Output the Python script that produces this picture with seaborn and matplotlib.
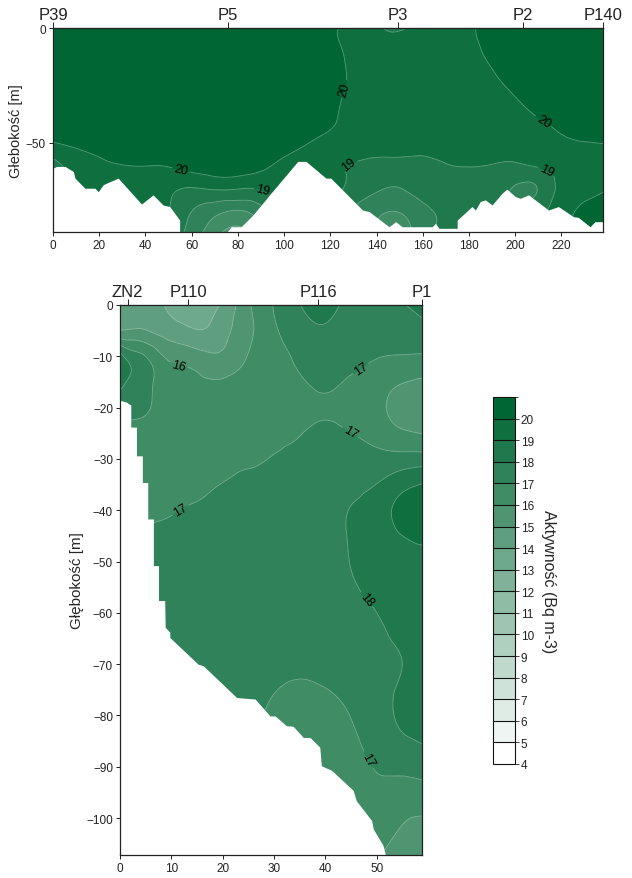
import numpy as np
import matplotlib
matplotlib.use('Agg')
import matplotlib.pyplot as plt
import matplotlib.tri as mtri
from matplotlib.colors import ListedColormap, BoundaryNorm
from matplotlib.cm import ScalarMappable
import seaborn as sns

# ---------------- upper section: P39 - P140 ----------------
top_x = list(range(0, 250, 10))
top_depth = [0, -10, -20, -30, -40, -50, -60, -70, -80, -90]
top_values = [
    [20.6]*11 + [20.35, 20.08, 19.8, 19.15, 18.9, 19.5, 19.6, 19.9, 20.2, 20.4, 20.6, 20.6, 20.6, 20.6],
    [20.6]*11 + [20.4, 20.15, 19.85, 19.5, 19.35, 19.5, 19.6, 19.8, 20.15, 20.4, 20.6, 20.6, 20.6, 20.6],
    [20.6]*11 + [20.45, 20.2, 19.9, 19.6, 19.5, 19.5, 19.55, 19.7, 19.95, 20.3, 20.5, 20.6, 20.6, 20.6],
    [20.6]*11 + [20.4, 20.15, 19.85, 19.6, 19.5, 19.5, 19.5, 19.6, 19.75, 20.0, 20.3, 20.5, 20.6, 20.6],
    [20.6]*10 + [20.5, 20.3, 20.08, 19.8, 19.6, 19.5, 19.5, 19.5, 19.5, 19.6, 19.8, 19.97, 20.2, 20.4, 20.5],
    [19.98, 20.2, 20.3, 20.4, 20.5, 20.5, 20.55, 20.6, 20.6, 20.5, 20.3, 20.03, 19.75, 19.55, 19.4,
     19.35, 19.35, 19.4, 19.45, 19.5, 19.55, 19.65, 19.85, 19.98, 20.02],
    [18.7, 19.4, 19.8, 19.98, 20.02, 20.05, 20.35, 20.6, 20.6, 20.2, 19.85, 19.6, 19.2, 18.95, 18.8,
     18.75, 18.75, 18.95, 19.03, 18.97, 18.88, 19.1, 19.45, 19.7, 19.85],
    [19.0, 19.2, 19.35, 19.45, 19.4, 19.2, 18.95, 19.1, 19.05, 19.05, 19.4, 19.5, 19.3, 18.7, 18.15,
     17.98, 18.4, 18.6, 18.7, 18.5, 17.9, 18.05, 19.3, 19.75, 20.0],
    [19.3, 19.3, 19.35, 19.4, 19.3, 19.0, 18.0, 17.3, 16.9, 17.6, 18.6, 19.0, 18.6, 17.85, 17.2,
     17.05, 17.7, 18.3, 18.6, 18.4, 18.0, 18.7, 19.5, 20.3, 20.5],
    [19.2, 19.2, 19.2, 19.2, 19.1, 18.7, 17.5, 16.25, 15.5, 16.75, 18.0, 18.6, 18.3, 17.9, 16.9,
     16.5, 17.5, 18.4, 18.6, 18.6, 18.5, 18.8, 19.6, 20.5, 20.6],
]
# outline of the section bottom (x, depth)
top_floor = [
    (0, -61.1), (1.6, -60.4), (5.2, -60.4), (8.8, -62.6), (9.5, -65.5), (13.8, -69.9), (18.1, -69.9),
    (19.6, -71.4), (21.7, -68.4), (23.1, -67.7), (28.2, -65.5), (38.3, -76.8), (43.3, -72.8),
    (47.6, -77.2), (50.5, -77.9), (54.8, -83.8), (54.8, -89.5), (74.9, -89.5), (77.1, -86.7),
    (81.4, -86.7), (86.5, -81.6), (93.7, -72.8), (105.9, -58.2), (109.5, -58.2), (118.1, -65.5),
    (120.2, -65.5), (133.9, -79.4), (136.8, -80.1), (145.4, -86.7), (148.3, -84.5), (151.1, -86.7),
    (164.1, -86.7), (165.5, -85.2), (167.0, -87.4), (174.9, -87.4), (174.9, -83.8), (181.3, -77.9),
    (182.8, -79.4), (184.9, -75.7), (187.1, -75.0), (190.0, -77.2), (194.3, -72.1), (196.4, -70.3),
    (200.0, -73.5), (202.2, -74.3), (205.8, -72.8), (214.4, -79.4), (218.7, -77.9), (225.2, -82.3),
    (227.3, -82.6), (232.4, -86.7), (234.5, -84.5), (240.0, -84.5),
]
top_wells = ['P39', 'P5', 'P3', 'P2', 'P140']
top_well_x = [0, 75.8, 149.2, 203.3, 238]
top_labels = {20: [(127, -27), (212, -41), (56, -58.7)],
              19: [(91, -70), (128.5, -60.5), (212.5, -64.5)]}

# ---------------- lower section: ZN2 - P1 ----------------
bot_x = list(range(0, 65, 5))
bot_depth = [0, -5, -10, -15, -20, -25, -30, -35, -40, -45, -50, -60, -70, -80, -90, -100, -110]
bot_values = [
    [14.7, 14.5, 13.8, 13.55, 14.15, 15.85, 17.05, 17.97, 18.3, 17.7, 17.6, 17.95, 18.3],
    [15.05, 15.05, 14.45, 14.05, 14.65, 15.75, 16.85, 17.6, 17.9, 17.6, 17.45, 17.5, 17.85],
    [18.4, 17.0, 15.75, 15.4, 15.2, 16.05, 16.6, 17.25, 17.6, 17.35, 17.05, 16.95, 16.9],
    [18.35, 17.3, 16.4, 16.2, 16.1, 16.25, 16.5, 16.85, 17.25, 16.85, 16.5, 16.05, 15.8],
    [17.3, 17.1, 16.55, 16.4, 16.4, 16.45, 16.5, 16.6, 16.85, 16.6, 16.25, 15.6, 15.35],
    [16.9, 16.7, 16.55, 16.5, 16.55, 16.65, 16.8, 16.95, 17.3, 17.01, 16.6, 16.15, 15.9],
    [16.6, 16.6, 16.6, 16.6, 16.7, 16.85, 17.05, 17.3, 17.55, 17.55, 17.35, 17.4, 17.45],
    [16.8, 16.8, 16.75, 16.8, 17.03, 17.25, 17.4, 17.55, 17.7, 17.8, 18.02, 18.7, 19.15],
    [16.9, 16.9, 16.95, 17.1, 17.25, 17.4, 17.5, 17.6, 17.75, 18.03, 18.5, 19.3, 19.45],
    [17.1, 17.1, 17.2, 17.3, 17.35, 17.45, 17.5, 17.6, 17.75, 18.05, 18.5, 19.0, 19.1],
    [17.3, 17.3, 17.4, 17.45, 17.5, 17.5, 17.55, 17.6, 17.75, 18.02, 18.4, 18.75, 18.85],
    [17.5, 17.5, 17.5, 17.5, 17.55, 17.55, 17.6, 17.65, 17.7, 17.8, 18.0, 18.45, 18.65],
    [17.5, 17.5, 17.5, 17.5, 17.45, 17.4, 17.3, 17.2, 17.3, 17.5, 17.75, 18.0, 18.4],
    [17.4, 17.4, 17.4, 17.3, 17.3, 17.2, 16.8, 16.6, 16.7, 17.03, 17.6, 18.15, 18.4],
    [17.0, 17.0, 17.0, 16.9, 16.8, 16.7, 16.6, 16.5, 16.6, 16.75, 17.06, 17.25, 17.5],
    [16.6, 16.6, 16.6, 16.6, 16.6, 16.6, 16.6, 16.6, 16.6, 16.6, 16.55, 16.1, 15.95],
    [16.3, 16.3, 16.3, 16.3, 16.3, 16.3, 16.3, 16.3, 16.2, 16.1, 15.8, 15.6, 15.5],
]
# outline of the left (no data) side (depth, x)
bot_wall = [
    (-18.6, 0), (-18.9, 1.2), (-19.5, 2.1), (-23.8, 2.1), (-23.8, 3.2), (-29.4, 3.2), (-29.4, 4.35),
    (-34.6, 4.35), (-34.6, 5.4), (-41.7, 5.4), (-41.7, 6.5), (-50.8, 6.5), (-50.8, 7.5), (-57.6, 7.5),
    (-57.6, 8.7), (-62.8, 8.8), (-63.8, 9.7), (-64.8, 9.7), (-70.0, 15.2), (-70.3, 16.2),
    (-76.5, 22.7), (-76.8, 26.3), (-80.1, 29.2), (-80.1, 30.2), (-82.0, 32.4), (-82.1, 33.7),
    (-84.3, 35.7), (-84.3, 37.0), (-86.2, 38.9), (-89.8, 39.2), (-90.7, 41.2), (-94.6, 45.4),
    (-96.6, 46.0), (-100.5, 49.0), (-102.1, 49.3), (-105.3, 51.2), (-106.9, 51.6), (-110, 52.5),
]
bot_wells = ['ZN2', 'P110', 'P116', 'P1']
bot_well_x = [1.5, 13.3, 38.6, 58.8]
bot_labels = {16: [(11.3, -12.2)],
              17: [(46.8, -12.3), (44.8, -25), (11.6, -39.7), (48.6, -88.5)],
              18: [(48.7, -56.7)]}

levels = list(range(4, 22))

sns.set_style('ticks')
plt.rcParams['font.family'] = ['Liberation Sans', 'DejaVu Sans']
plt.rcParams['axes.edgecolor'] = '#222222'
plt.rcParams['xtick.color'] = '#222222'
plt.rcParams['ytick.color'] = '#222222'

palette = sns.blend_palette(['#ffffff', '#006633'], n_colors=len(levels) - 1)
cmap = ListedColormap(palette)
norm = BoundaryNorm(levels, cmap.N)
line_col = [(1, 1, 1, 0.35)]


def draw_section(ax, xs, ds, values, labels):
    X, D = np.meshgrid(xs, ds)
    tri = mtri.Triangulation(X.ravel(), D.ravel())
    refiner = mtri.UniformTriRefiner(tri)
    tri_f, z_f = refiner.refine_field(np.asarray(values, float).ravel(), subdiv=3)
    z_f = np.clip(z_f, 4.01, 20.99)
    ax.tricontourf(tri_f, z_f, levels=levels, cmap=cmap, norm=norm, zorder=1)
    plain = [lv for lv in levels if lv not in labels]
    ax.tricontour(tri_f, z_f, levels=plain, colors=line_col, linewidths=0.6, zorder=1.5)
    for lv, spots in labels.items():
        cs = ax.tricontour(tri_f, z_f, levels=[lv], colors=line_col, linewidths=0.6, zorder=1.5)
        ax.clabel(cs, fmt='%d', fontsize=9, colors='black', manual=spots, inline_spacing=2)


fig = plt.figure(figsize=(6.32, 8.79), dpi=100)

# upper section
ax1 = fig.add_axes([53 / 632, 1 - 233 / 879, 550 / 632, 204 / 879])
draw_section(ax1, top_x, top_depth, top_values, top_labels)
fx, fd = zip(*top_floor)
ax1.fill_between(fx, fd, -120, color='white', lw=0, zorder=2)
ax1.set_xlim(0, 238)
ax1.set_ylim(-89, 0)
ax1.set_xticks(range(0, 240, 20))
ax1.set_yticks([0, -50])
ax1.set_ylabel('Głebokość [m]', fontsize=10.5, labelpad=2)
ax1.tick_params(labelsize=8.5, length=3, width=0.7, pad=2)
sec1 = ax1.secondary_xaxis('top')
sec1.set_xticks(top_well_x, top_wells)
sec1.tick_params(labelsize=12, length=4, width=0.7, pad=0)

# lower section
ax2 = fig.add_axes([120 / 632, 1 - 856 / 879, 302 / 632, 550 / 879])
draw_section(ax2, bot_x, bot_depth, bot_values, bot_labels)
wd, wx = zip(*bot_wall)
ax2.fill_betweenx(wd, 0, wx, color='white', lw=0, zorder=2)
ax2.set_xlim(0, 58.8)
ax2.set_ylim(-107.2, 0)
ax2.set_xticks(range(0, 60, 10))
ax2.set_yticks(range(0, -101, -10))
ax2.set_ylabel('Głębokość [m]', fontsize=11, labelpad=2)
ax2.tick_params(labelsize=8.5, length=3, width=0.7, pad=2)
sec2 = ax2.secondary_xaxis('top')
sec2.set_xticks(bot_well_x, bot_wells)
sec2.tick_params(labelsize=12, length=4, width=0.7, pad=0)

for ax in (ax1, ax2):
    for side in ['top', 'right', 'left', 'bottom']:
        ax.spines[side].set_visible(True)
        ax.spines[side].set_linewidth(0.9)

# colour scale
cax = fig.add_axes([493 / 632, 1 - 765 / 879, 22 / 632, 367 / 879])
cb = fig.colorbar(ScalarMappable(norm=norm, cmap=cmap), cax=cax, ticks=levels[:-1], drawedges=True)
cb.dividers.set_color('#111111')
cb.dividers.set_linewidth(0.8)
cb.outline.set_linewidth(0.8)
cb.outline.set_edgecolor('#111111')
cax.tick_params(labelsize=8.5, length=3, width=0.6, pad=1)
cb.set_label('Aktywność (Bq m-3)', rotation=270, fontsize=11.5, labelpad=16)

fig.savefig('out.png', dpi=100)
